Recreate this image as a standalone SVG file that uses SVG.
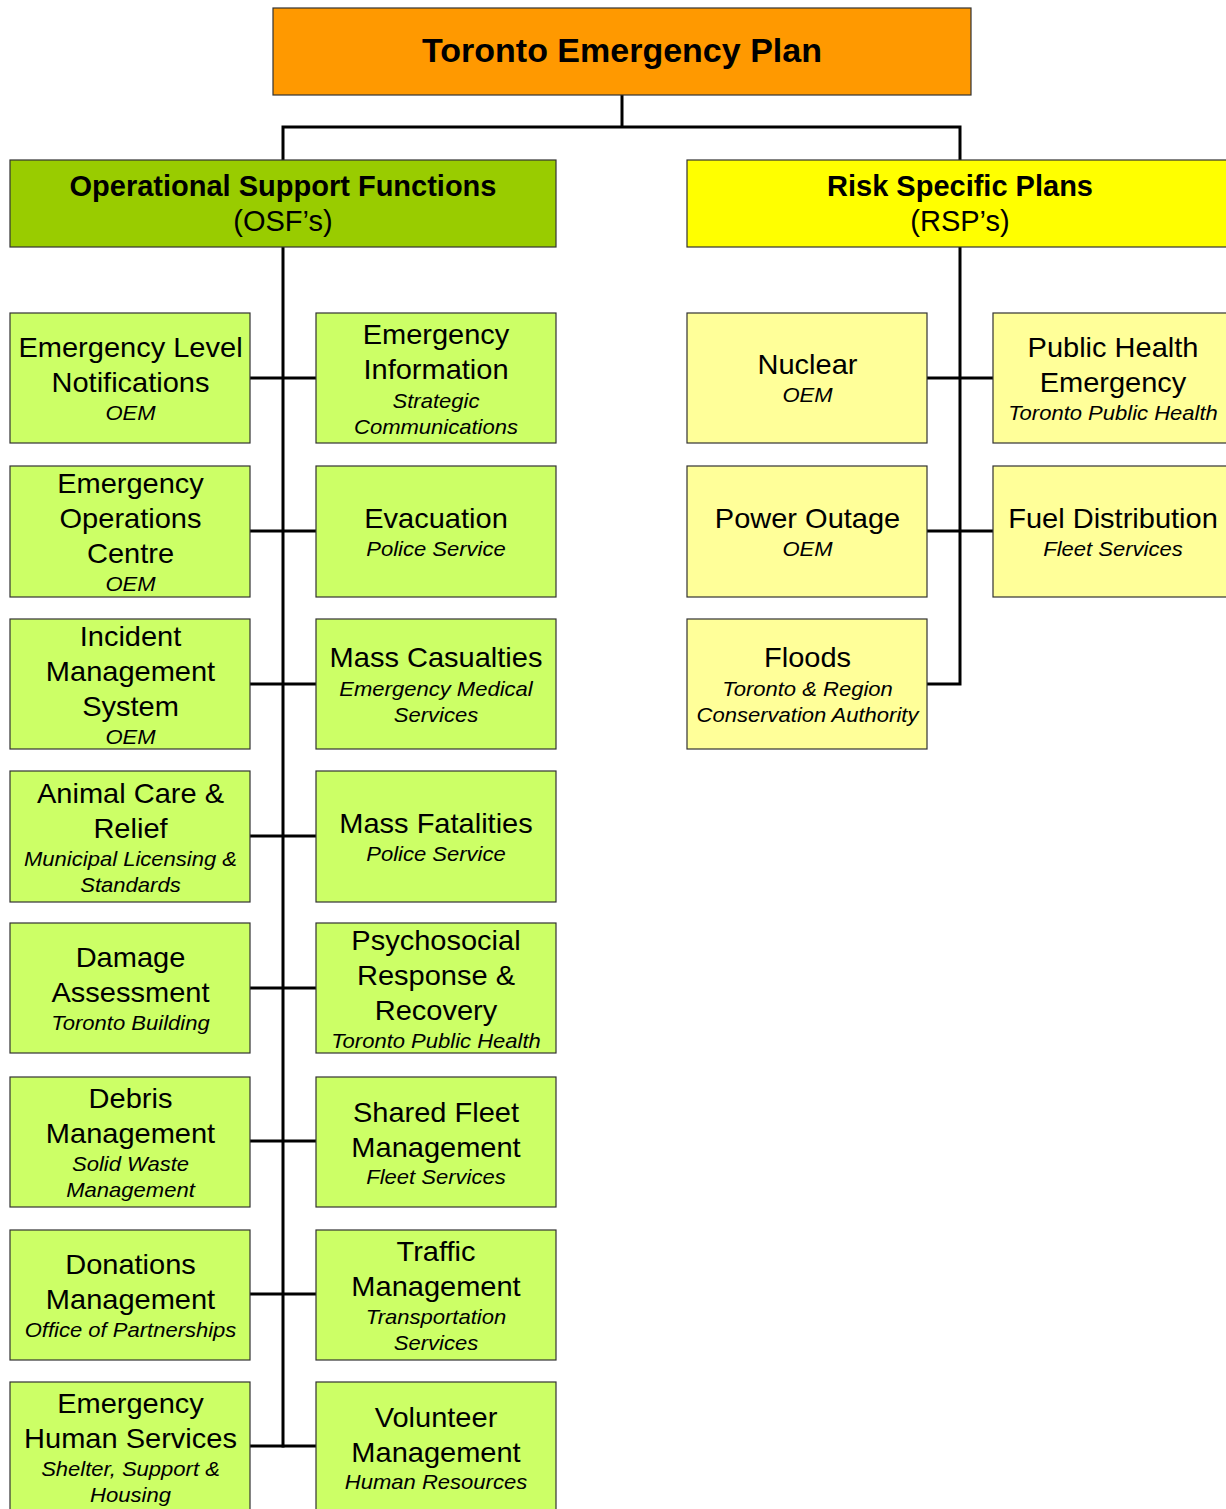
<svg xmlns="http://www.w3.org/2000/svg" width="1226" height="1509" viewBox="0 0 1226 1509">
<style>
text{font-family:"Liberation Sans",Arial,sans-serif;fill:#000;text-anchor:middle}
.b{stroke:#333;stroke-width:1.2}
.g{fill:#CCFF66}
.y{fill:#FFFF99}
.m{font-size:27px}
.i{font-size:20.5px;font-style:italic}
.h{font-size:29px}
.hb{font-size:29px;font-weight:bold}
.c{stroke:#000;stroke-width:3;fill:none}
</style>
<rect width="1226" height="1509" fill="#fff"/>
<g id="connectors">
<polyline class="c" points="622,95 622,127"/>
<polyline class="c" points="283,160 283,127 960,127 960,160"/>
<line class="c" x1="283" y1="247" x2="283" y2="1447.5"/>
<line class="c" x1="250" y1="378" x2="316" y2="378"/>
<line class="c" x1="250" y1="531" x2="316" y2="531"/>
<line class="c" x1="250" y1="684" x2="316" y2="684"/>
<line class="c" x1="250" y1="836" x2="316" y2="836"/>
<line class="c" x1="250" y1="988" x2="316" y2="988"/>
<line class="c" x1="250" y1="1141" x2="316" y2="1141"/>
<line class="c" x1="250" y1="1294" x2="316" y2="1294"/>
<line class="c" x1="250" y1="1446" x2="316" y2="1446"/>
<polyline class="c" points="960,247 960,684 927,684"/>
<line class="c" x1="927" y1="378" x2="993" y2="378"/>
<line class="c" x1="927" y1="531" x2="993" y2="531"/>
</g>
<g id="plan"><rect class="b" x="273" y="8" width="698" height="87" fill="#FF9900"/><text x="622" y="62" style="font-size:34px;font-weight:bold">Toronto Emergency Plan</text></g>
<g id="osf"><rect class="b" x="10" y="160" width="546" height="87" fill="#99CC00"/><text class="hb" x="283" y="196">Operational Support Functions</text><text class="h" x="283" y="231">(OSF’s)</text></g>
<g id="rsp"><rect class="b" x="687" y="160" width="546" height="87" fill="#FFFF00"/><text class="hb" x="960" y="196">Risk Specific Plans</text><text class="h" x="960" y="231">(RSP’s)</text></g>

<g id="eln"><rect class="b g" x="10" y="313" width="240" height="130"/><g transform="translate(130.5 0) scale(1.075 1)"><text class="m" y="357">Emergency Level</text><text class="m" y="392">Notifications</text><text class="i" y="420">OEM</text></g></g>
<g id="ei"><rect class="b g" x="316" y="313" width="240" height="130"/><g transform="translate(436 0) scale(1.075 1)"><text class="m" y="344">Emergency</text><text class="m" y="379">Information</text><text class="i" y="408">Strategic</text><text class="i" y="434">Communications</text></g></g>
<g id="eoc"><rect class="b g" x="10" y="466" width="240" height="131"/><g transform="translate(130.5 0) scale(1.075 1)"><text class="m" y="493">Emergency</text><text class="m" y="528">Operations</text><text class="m" y="563">Centre</text><text class="i" y="591">OEM</text></g></g>
<g id="evac"><rect class="b g" x="316" y="466" width="240" height="131"/><g transform="translate(436 0) scale(1.075 1)"><text class="m" y="528">Evacuation</text><text class="i" y="556">Police Service</text></g></g>
<g id="ims"><rect class="b g" x="10" y="619" width="240" height="130"/><g transform="translate(130.5 0) scale(1.075 1)"><text class="m" y="646">Incident</text><text class="m" y="681">Management</text><text class="m" y="716">System</text><text class="i" y="744">OEM</text></g></g>
<g id="mc"><rect class="b g" x="316" y="619" width="240" height="130"/><g transform="translate(436 0) scale(1.075 1)"><text class="m" y="667">Mass Casualties</text><text class="i" y="696">Emergency Medical</text><text class="i" y="722">Services</text></g></g>
<g id="acr"><rect class="b g" x="10" y="771" width="240" height="131"/><g transform="translate(130.5 0) scale(1.075 1)"><text class="m" y="803">Animal Care &amp;</text><text class="m" y="838">Relief</text><text class="i" y="866">Municipal Licensing &amp;</text><text class="i" y="892">Standards</text></g></g>
<g id="mf"><rect class="b g" x="316" y="771" width="240" height="131"/><g transform="translate(436 0) scale(1.075 1)"><text class="m" y="833">Mass Fatalities</text><text class="i" y="861">Police Service</text></g></g>
<g id="da"><rect class="b g" x="10" y="923" width="240" height="130"/><g transform="translate(130.5 0) scale(1.075 1)"><text class="m" y="967">Damage</text><text class="m" y="1002">Assessment</text><text class="i" y="1030">Toronto Building</text></g></g>
<g id="prr"><rect class="b g" x="316" y="923" width="240" height="130"/><g transform="translate(436 0) scale(1.075 1)"><text class="m" y="950">Psychosocial</text><text class="m" y="985">Response &amp;</text><text class="m" y="1020">Recovery</text><text class="i" y="1048">Toronto Public Health</text></g></g>
<g id="dm"><rect class="b g" x="10" y="1077" width="240" height="130"/><g transform="translate(130.5 0) scale(1.075 1)"><text class="m" y="1108">Debris</text><text class="m" y="1143">Management</text><text class="i" y="1171">Solid Waste</text><text class="i" y="1197">Management</text></g></g>
<g id="sfm"><rect class="b g" x="316" y="1077" width="240" height="130"/><g transform="translate(436 0) scale(1.075 1)"><text class="m" y="1122">Shared Fleet</text><text class="m" y="1157">Management</text><text class="i" y="1184">Fleet Services</text></g></g>
<g id="don"><rect class="b g" x="10" y="1230" width="240" height="130"/><g transform="translate(130.5 0) scale(1.075 1)"><text class="m" y="1274">Donations</text><text class="m" y="1309">Management</text><text class="i" y="1337">Office of Partnerships</text></g></g>
<g id="tm"><rect class="b g" x="316" y="1230" width="240" height="130"/><g transform="translate(436 0) scale(1.075 1)"><text class="m" y="1261">Traffic</text><text class="m" y="1296">Management</text><text class="i" y="1324">Transportation</text><text class="i" y="1350">Services</text></g></g>
<g id="ehs"><rect class="b g" x="10" y="1382" width="240" height="132"/><g transform="translate(130.5 0) scale(1.075 1)"><text class="m" y="1413">Emergency</text><text class="m" y="1448">Human Services</text><text class="i" y="1476">Shelter, Support &amp;</text><text class="i" y="1502">Housing</text></g></g>
<g id="vm"><rect class="b g" x="316" y="1382" width="240" height="132"/><g transform="translate(436 0) scale(1.075 1)"><text class="m" y="1427">Volunteer</text><text class="m" y="1462">Management</text><text class="i" y="1489">Human Resources</text></g></g>

<g id="nuclear"><rect class="b y" x="687" y="313" width="240" height="130"/><g transform="translate(807.5 0) scale(1.075 1)"><text class="m" y="374">Nuclear</text><text class="i" y="402">OEM</text></g></g>
<g id="phe"><rect class="b y" x="993" y="313" width="240" height="130"/><g transform="translate(1113 0) scale(1.075 1)"><text class="m" y="357">Public Health</text><text class="m" y="392">Emergency</text><text class="i" y="420">Toronto Public Health</text></g></g>
<g id="power"><rect class="b y" x="687" y="466" width="240" height="131"/><g transform="translate(807.5 0) scale(1.075 1)"><text class="m" y="528">Power Outage</text><text class="i" y="556">OEM</text></g></g>
<g id="fuel"><rect class="b y" x="993" y="466" width="240" height="131"/><g transform="translate(1113 0) scale(1.075 1)"><text class="m" y="528">Fuel Distribution</text><text class="i" y="556">Fleet Services</text></g></g>
<g id="floods"><rect class="b y" x="687" y="619" width="240" height="130"/><g transform="translate(807.5 0) scale(1.075 1)"><text class="m" y="667">Floods</text><text class="i" y="696">Toronto &amp; Region</text><text class="i" y="722">Conservation Authority</text></g></g>
</svg>
